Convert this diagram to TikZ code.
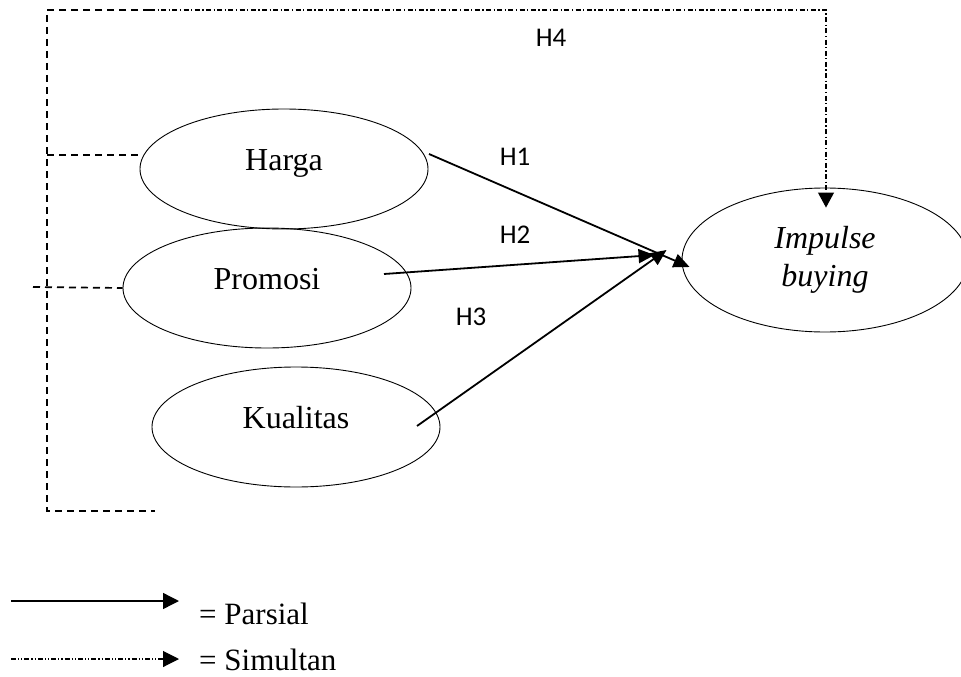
\documentclass[tikz,border=0pt]{standalone}
\usepackage{fontspec}
\setmainfont{Liberation Serif}
\newfontfamily\calibrifont{Carlito}
\usetikzlibrary{shapes.geometric,arrows.meta,calc}
\begin{document}
\begin{tikzpicture}[x=1pt,y=-1pt,
  var/.style={draw, ellipse, line width=0.9pt, inner sep=0pt,
    minimum width=288pt, minimum height=120pt,
    font=\fontsize{32}{38}\selectfont, text height=22pt, text depth=19pt},
  hlabel/.style={font=\calibrifont\fontsize{27}{32}\selectfont, inner sep=0pt},
  parsial/.style={line width=1.8pt, -{Triangle[length=16pt,width=14pt]}},
  simdash/.style={line width=1.1pt, dash pattern=on 5pt off 2.5pt on 1.2pt off 2.5pt},
  simdot/.style={line width=1.1pt, dash pattern=on 5pt off 2pt on 1.2pt off 2pt on 1.2pt off 2pt},
  grpdash/.style={line width=1.7pt, dash pattern=on 7pt off 5pt},
  legtext/.style={font=\fontsize{31}{36}\selectfont, anchor=west, inner sep=0pt}
]
\useasboundingbox (0,0) rectangle (961,677);

% variables
\node[var] (harga) at (284,169) {Harga};
\node[var] (promosi) at (267,288) {Promosi};
\node[var] (kualitas) at (296,427) {Kualitas};
\node[draw, ellipse, line width=0.9pt, inner sep=0pt,
  minimum width=286pt, minimum height=144pt, align=center,
  font=\itshape\fontsize{32}{38}\selectfont] (imp) at (825,260) {Impulse\\buying};

% simultaneous group (dashed bracket)
\coordinate (tl) at (47,10);
\coordinate (tm) at (150,10);
\coordinate (lh) at (47,155);
\coordinate (bl) at (47,511);
\coordinate (br) at (155,511);
\coordinate (pl) at (33,287);
\draw[grpdash] (tm) -- (tl) -- (bl) -- (br);
\draw[grpdash] (lh) -- ($(harga.west)+(0,-14)$);
\draw[grpdash] (pl) -- (promosi.west);
\draw[simdash, -{Triangle[length=15pt,width=16pt]}] (tm) -| ($(imp.north)+(1,20)$);

% partial arrows
\draw[parsial] ($(harga.center)+(145,-15)$) -- ($(imp.west)+(8,7)$);
\draw[parsial] ($(promosi.center)+(117,-14)$) -- ($(imp.west)+(-27,-5)$);
\draw[parsial] ($(kualitas.center)+(121,-1)$) -- ($(imp.west)+(-15,-10)$);

% labels
\node[hlabel] (h4) at (551,38) {H4};
\node[hlabel] (h1) at (515,157) {H1};
\node[hlabel] (h2) at (515,235) {H2};
\node[hlabel] (h3) at (471,317) {H3};

% legend
\coordinate (la) at (11,601);
\coordinate (lb) at (179,601);
\coordinate (lc) at (11,659);
\coordinate (ld) at (179,659);
\draw[line width=1.4pt, -{Triangle[length=16pt,width=16pt]}] (la) -- (lb);
\draw[simdot, -{Triangle[length=16pt,width=16pt]}] (lc) -- (ld);
\node[legtext] (lp) at (199,614) {= Parsial};
\node[legtext] (ls) at (199,660) {= Simultan};
\end{tikzpicture}
\end{document}
